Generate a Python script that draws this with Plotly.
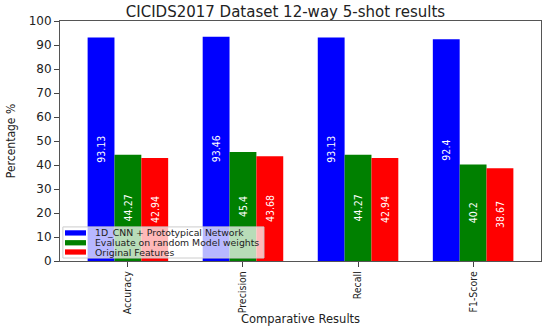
import plotly.graph_objects as go

categories = ["Accuracy", "Precision", "Recall", "F1-Score"]
proto_net = [93.13, 93.46, 93.13, 92.4]
random_weights = [44.27, 45.4, 44.27, 40.2]
original_feats = [42.94, 43.68, 42.94, 38.67]
series_names = ["1D_CNN + Prototypical Network", "Evaluate on random Model weights", "Original Features"]
series_colors = ["#0000ff", "#008000", "#ff0000"]
y_ticks = [0, 10, 20, 30, 40, 50, 60, 70, 80, 90, 100]

NARROW = "Liberation Sans Narrow, DejaVu Sans Condensed, sans-serif"

fig = go.Figure()
for name, vals, col in zip(series_names, [proto_net, random_weights, original_feats], series_colors):
    fig.add_trace(go.Bar(
        x=categories, y=vals, name=name, marker_color=col, marker_line_width=0,
        text=[str(v) for v in vals], textposition="inside", insidetextanchor="middle",
        textangle=-90, showlegend=False, hoverinfo="skip",
        textfont=dict(color="white", size=10.5, family=NARROW),
    ))

# custom compact legend (matplotlib-like), drawn in axis-domain coordinates
legend_box = dict(x0=0.006, x1=0.424, y0=0.0125, y1=0.142)
fig.add_shape(type="rect", xref="x domain", yref="y domain", layer="above",
              fillcolor="rgba(255,255,255,0.72)", line=dict(color="#cccccc", width=1),
              **legend_box)
entry_y = [0.117, 0.076, 0.0375]
for name, col, yy in zip(series_names, series_colors, entry_y):
    fig.add_shape(type="rect", xref="x domain", yref="y domain", layer="above",
                  x0=0.0104, x1=0.054, y0=yy - 0.011, y1=yy + 0.011,
                  fillcolor=col, line=dict(width=0))
    fig.add_annotation(xref="x domain", yref="y domain", x=0.0686, y=yy,
                       xanchor="left", yanchor="middle", showarrow=False, text=name,
                       font=dict(size=9.3, family="DejaVu Sans", color="#222"))

fig.update_layout(
    width=550, height=326,
    margin=dict(l=60, r=9, t=21, b=65),
    paper_bgcolor="white", plot_bgcolor="white",
    barmode="group", bargap=0.3, bargroupgap=0,
    showlegend=False,
    title=dict(text="CICIDS2017 Dataset 12-way 5-shot results", x=0.519, xanchor="center",
               y=0.963, yanchor="middle",
               font=dict(family="DejaVu Sans", size=15, color="#222")),
    font=dict(family="DejaVu Sans", color="#222"),
    xaxis=dict(range=[-0.59, 3.59], showline=True, linecolor="#555", linewidth=1, mirror=True,
               ticks="outside", ticklen=5, tickcolor="#444", tickangle=-90, automargin=False,
               tickfont=dict(size=10.5, family=NARROW),
               title=dict(text="Comparative Results", font=dict(size=11.5, family="DejaVu Sans"), standoff=2)),
    yaxis=dict(range=[0, 100], tickvals=y_ticks, showline=True, linecolor="#555", linewidth=1, mirror=True,
               ticks="outside", ticklen=5, tickcolor="#444", showgrid=False, zeroline=False,
               automargin=False,
               tickfont=dict(size=12, family="DejaVu Sans"),
               title=dict(text="Percentage %", font=dict(size=12, family=NARROW), standoff=10)),
)

fig.write_html("out.html", config={"displayModeBar": False},
               post_script="document.body.style.margin='0';document.body.style.overflow='hidden';")
